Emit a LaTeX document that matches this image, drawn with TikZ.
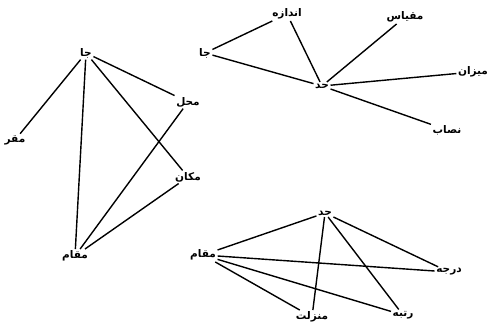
\documentclass[tikz,border=0pt]{standalone}
\usepackage{fontspec}
\newfontfamily\arabicfont[Script=Arabic]{DejaVu Sans}
\TeXXeTstate=1
\tikzset{
  word/.style={font=\arabicfont\bfseries\fontsize{10.5}{12}\selectfont, inner sep=1.5pt},
  link/.style={line width=1.4pt, black}
}
\newcommand{\fa}[1]{\beginR #1\endR}
\begin{document}
\begin{tikzpicture}[x=1pt,y=-1pt]
\useasboundingbox (0,0) rectangle (490,331);
% left cluster
\node[word] (ja1) at (86,53) {\fa{جا}};
\node[word] (maqarr) at (15,140) {\fa{مقر}};
\node[word] (mahal) at (188,102) {\fa{محل}};
\node[word] (makan) at (188,177) {\fa{مکان}};
\node[word] (maqam1) at (75,256) {\fa{مقام}};
\draw[link] (ja1) -- (maqarr);
\draw[link] (ja1) -- (maqam1);
\draw[link] (ja1) -- (mahal);
\draw[link] (ja1) -- (makan);
\draw[link] (mahal) -- (maqam1);
\draw[link] (makan) -- (maqam1);
% top right cluster
\node[word] (andaze) at (287,14) {\fa{اندازه}};
\node[word] (ja2) at (205,53) {\fa{جا}};
\node[word] (hadd1) at (322,86) {\fa{حد}};
\node[word] (meqyas) at (405,17) {\fa{مقیاس}};
\node[word] (mizan) at (473,72) {\fa{میزان}};
\node[word] (nesab) at (447,130) {\fa{نصاب}};
\draw[link] (ja2) -- (andaze);
\draw[link] (ja2) -- (hadd1);
\draw[link] (andaze) -- (hadd1);
\draw[link] (hadd1) -- (meqyas);
\draw[link] (hadd1) -- (mizan);
\draw[link] (hadd1) -- (nesab);
% bottom cluster
\node[word] (hadd2) at (325,213) {\fa{حد}};
\node[word] (maqam2) at (203,255) {\fa{مقام}};
\node[word] (daraje) at (449,272) {\fa{درجه}};
\node[word] (rotbe) at (403,315) {\fa{رتبه}};
\node[word] (manzelat) at (312,317) {\fa{منزلت}};
\draw[link] (hadd2) -- (maqam2);
\draw[link] (hadd2) -- (daraje);
\draw[link] (hadd2) -- (rotbe);
\draw[link] (hadd2) -- (manzelat);
\draw[link] (maqam2) -- (daraje);
\draw[link] (maqam2) -- (rotbe);
\draw[link] (maqam2) -- (manzelat);
\end{tikzpicture}
\end{document}
